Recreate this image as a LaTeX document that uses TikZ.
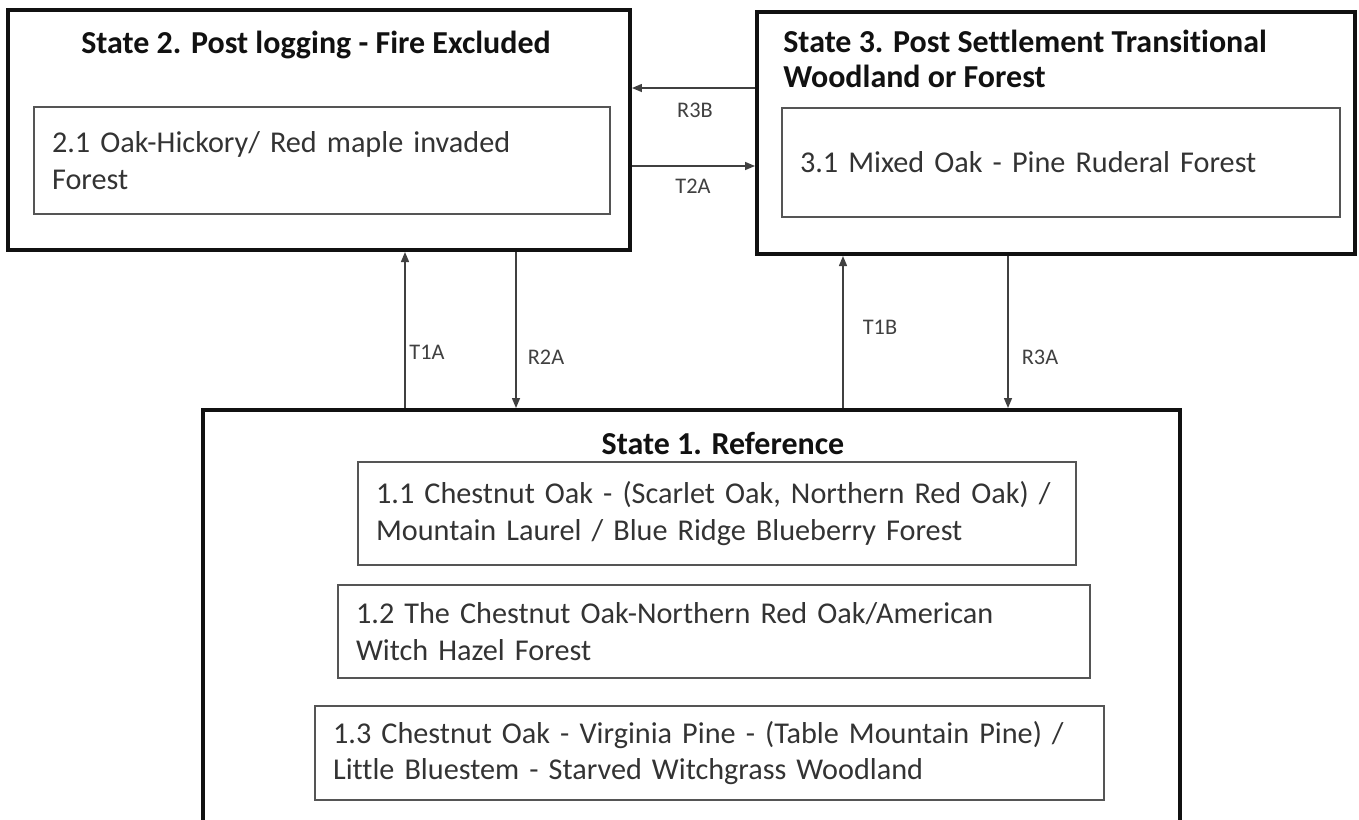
\documentclass[tikz,border=0pt]{standalone}
\usepackage{fontspec}
\setmainfont{Carlito}[Ligatures=NoCommon]
\usetikzlibrary{arrows.meta,positioning,calc}
\definecolor{ink}     {HTML}{111111}
\definecolor{inkgray} {HTML}{333333}
\definecolor{boxgray} {HTML}{555555}
\definecolor{arrgray} {HTML}{404040}
\tikzset{
  statebox/.style  ={draw=ink, line width=2.3pt, inner sep=0pt},
  phasebox/.style  ={draw=boxgray, line width=1pt, align=left,
                     inner xsep=0.36cm, inner ysep=0pt,
                     font=\fontsize{17.2}{21}\selectfont, text=inkgray},
  titletext/.style ={font=\fontsize{18.2}{19.5}\selectfont\bfseries,
                     text=ink, align=left, inner sep=0pt},
  lbltext/.style   ={font=\fontsize{12.7}{14}\selectfont, text=arrgray, inner sep=0pt},
  flowarr/.style   ={-{Triangle[length=2mm,width=1.6mm]}, line width=0.8pt, color=arrgray},
}
\begin{document}
\begin{tikzpicture}[x=0.02cm,y=0.02cm]
    \useasboundingbox (0,0) rectangle (1359,-819);
    \clip (0,0) rectangle (1359,-819);

    % ----- State 2 (top left) -----
    \node[statebox,minimum width=12.44cm,minimum height=4.8cm] (st2) at (319,-130) {};
    \node[titletext] (st2title) at (316,-45) {State 2. Post logging - Fire Excluded};
    \node[phasebox,text width=10.8cm,minimum height=2.14cm] (ph21) at (322,-160.5)
      {2.1 Oak-Hickory/ Red maple invaded\\Forest};

    % ----- State 3 (top right) -----
    \node[statebox,minimum width=11.96cm,minimum height=4.84cm] (st3) at (1056,-133) {};
    \node[titletext,anchor=west] (st3title) at (783,-59)
      {State 3. Post Settlement Transitional\\Woodland or Forest};
    \node[phasebox,text width=10.44cm,minimum height=2.18cm] (ph31) at (1061,-162.5)
      {3.1 Mixed Oak - Pine Ruderal Forest};

    % ----- State 1 (bottom, runs off the page) -----
    \node[statebox,minimum width=19.54cm,minimum height=9cm] (st1) at (691.5,-635) {};
    \node[titletext] (st1title) at (723,-443) {State 1. Reference};
    \node[phasebox,text width=13.64cm,minimum height=2.06cm] (ph11) at (717,-513.5)
      {1.1 Chestnut Oak - (Scarlet Oak, Northern Red Oak) /\\Mountain Laurel / Blue Ridge Blueberry Forest};
    \node[phasebox,text width=14.32cm,minimum height=1.86cm] (ph12) at (714,-631.5)
      {1.2 The Chestnut Oak-Northern Red Oak/American\\Witch Hazel Forest};
    \node[phasebox,text width=15.06cm,minimum height=1.88cm] (ph13) at (709.5,-753)
      {1.3 Chestnut Oak - Virginia Pine - (Table Mountain Pine) /\\Little Bluestem - Starved Witchgrass Woodland};

    % ----- transitions -----
    \draw[flowarr] (st3.west |- 0,-88)  -- (st2.east |- 0,-88);
    \draw[flowarr] (st2.east |- 0,-166) -- (st3.west |- 0,-166);
    \draw[flowarr] (st1.north -| 405,0)  -- (st2.south -| 405,0);
    \draw[flowarr] (st2.south -| 516,0)  -- (st1.north -| 516,0);
    \draw[flowarr] (st1.north -| 843,0)  -- (st3.south -| 843,0);
    \draw[flowarr] (st3.south -| 1008,0) -- (st1.north -| 1008,0);

    \node[lbltext] (r3b) at (695,-110) {R3B};
    \node[lbltext] (t2a) at (693,-186) {T2A};
    \node[lbltext] (t1a) at (427,-352) {T1A};
    \node[lbltext] (r2a) at (546,-357) {R2A};
    \node[lbltext] (t1b) at (880,-327) {T1B};
    \node[lbltext] (r3a) at (1040,-357) {R3A};
  \end{tikzpicture}
\end{document}
